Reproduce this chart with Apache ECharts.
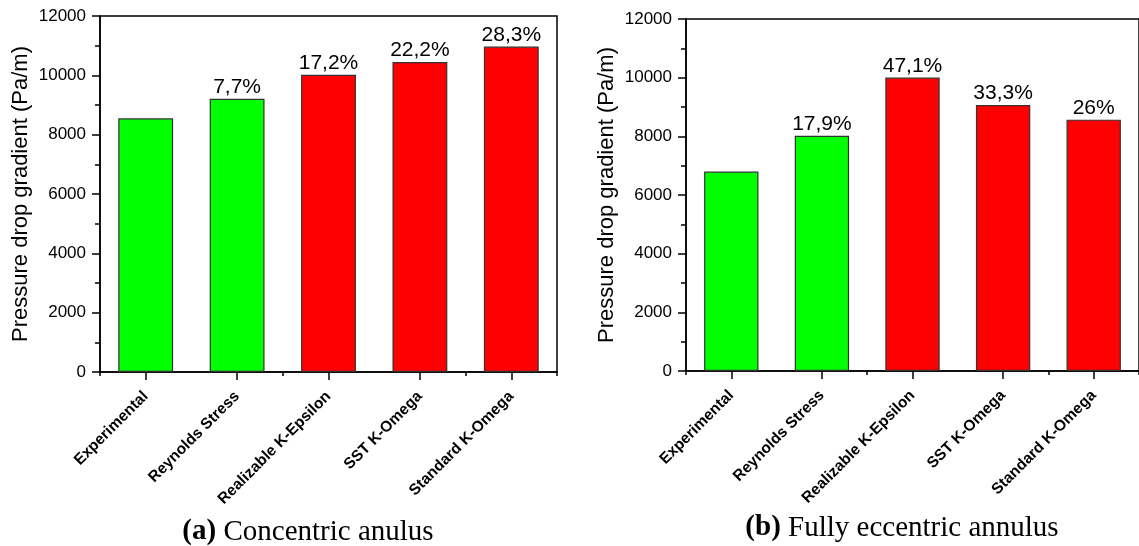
<!DOCTYPE html>
<html>
<head>
<meta charset="utf-8">
<script src="https://cdn.jsdelivr.net/npm/echarts@6/dist/echarts.min.js"></script>
<style>
  html, body { margin: 0; padding: 0; background: #fff; }
  #chart { width: 1139px; height: 546px; }
</style>
</head>
<body>
<div id="chart"></div>
<script>
// Turbulence models compared with the experimental pressure drop gradient
const categories = ['Experimental', 'Reynolds Stress', 'Realizable K-Epsilon', 'SST K-Omega', 'Standard K-Omega'];

// (a) concentric annulus, Pa/m
const concentricValues = [8550, 9210, 10020, 10450, 10970];
const concentricLabels = ['', '7,7%', '17,2%', '22,2%', '28,3%'];

// (b) fully eccentric annulus, Pa/m
const eccentricValues = [6800, 8017, 10003, 9064, 8568];
const eccentricLabels = ['', '17,9%', '47,1%', '33,3%', '26%'];

// green = within tolerance, red = large deviation
const concentricColors = ['#00ff00', '#00ff00', '#ff0000', '#ff0000', '#ff0000'];
const eccentricColors = ['#00ff00', '#00ff00', '#ff0000', '#ff0000', '#ff0000'];

const yTicks = { min: 0, max: 12000, interval: 2000 };
const yName = 'Pressure drop gradient (Pa/m)';
const captions = [
  { tag: '(a)', text: ' Concentric anulus' },
  { tag: '(b)', text: ' Fully eccentric annulus' }
];

const SANS = 'Liberation Sans, Arial, sans-serif';
const SERIF = 'Liberation Serif, Times New Roman, serif';

const chart = echarts.init(document.getElementById('chart'));

const grids = [
  { left: 100, top: 16, width: 457, height: 356 },
  { left: 686, top: 19, width: 457, height: 352 }
];

function xAxesFor(gi) {
  return [
    {
      type: 'category', gridIndex: gi, data: categories, position: 'bottom',
      axisLine: { lineStyle: { color: '#000', width: 1.5 } },
      axisTick: { show: true, alignWithLabel: true, length: 8, lineStyle: { color: '#000', width: 1.5 } },
      axisLabel: {
        rotate: 45, margin: 22, color: '#000',
        fontFamily: SANS, fontWeight: 'bold', fontSize: 15.5
      },
      splitLine: { show: false }
    },
    {
      type: 'category', gridIndex: gi, data: categories, position: 'bottom', offset: 0,
      axisLine: { show: false },
      axisTick: { show: true, length: 4, lineStyle: { color: '#000', width: 1.5 } },
      axisLabel: { show: false },
      splitLine: { show: false }
    }
  ];
}

function yAxisFor(gi) {
  return {
    type: 'value', gridIndex: gi,
    min: yTicks.min, max: yTicks.max, interval: yTicks.interval,
    name: yName, nameLocation: 'middle', nameGap: 68, nameRotate: 90,
    nameTextStyle: { fontFamily: SANS, fontSize: 22, color: '#000' },
    axisLine: { show: true, lineStyle: { color: '#000', width: 1.5 } },
    axisTick: { show: true, length: 8, lineStyle: { color: '#000', width: 1.5 } },
    minorTick: { show: true, splitNumber: 2, length: 5, lineStyle: { color: '#000', width: 1.5 } },
    axisLabel: {
      margin: 14, fontFamily: SANS, fontSize: 17, color: '#000',
      formatter: v => String(v)
    },
    splitLine: { show: false }
  };
}

function barSeries(gi, values, labels, colors) {
  return {
    type: 'bar', xAxisIndex: gi * 2, yAxisIndex: gi,
    barWidth: '60%',
    data: values.map((v, i) => ({ value: v, itemStyle: { color: colors[i] } })),
    itemStyle: { borderColor: '#333', borderWidth: 1.2 },
    label: {
      show: true, position: 'top', distance: 1,
      fontFamily: SANS, fontSize: 21, color: '#000',
      formatter: p => labels[p.dataIndex]
    },
    silent: true
  };
}

const captionCenters = [
  { x: 308, y: 532 },
  { x: 902, y: 528 }
];

chart.setOption({
  animation: false,
  backgroundColor: '#fff',
  grid: grids.map(g => Object.assign({ show: true, borderColor: '#000', borderWidth: 1.5, backgroundColor: 'transparent' }, g)),
  xAxis: [...xAxesFor(0), ...xAxesFor(1)],
  yAxis: [yAxisFor(0), yAxisFor(1)],
  series: [
    barSeries(0, concentricValues, concentricLabels, concentricColors),
    barSeries(1, eccentricValues, eccentricLabels, eccentricColors)
  ],
  graphic: captions.map((c, i) => ({
    type: 'text',
    x: captionCenters[i].x, y: captionCenters[i].y,
    style: {
      text: '{b|' + c.tag + '}{n|' + c.text + '}',
      align: 'center', verticalAlign: 'middle',
      rich: {
        b: { fontFamily: SERIF, fontWeight: 'bold', fontSize: 29, fill: '#000' },
        n: { fontFamily: SERIF, fontSize: 29, fill: '#000' }
      }
    }
  }))
});
</script>
</body>
</html>
